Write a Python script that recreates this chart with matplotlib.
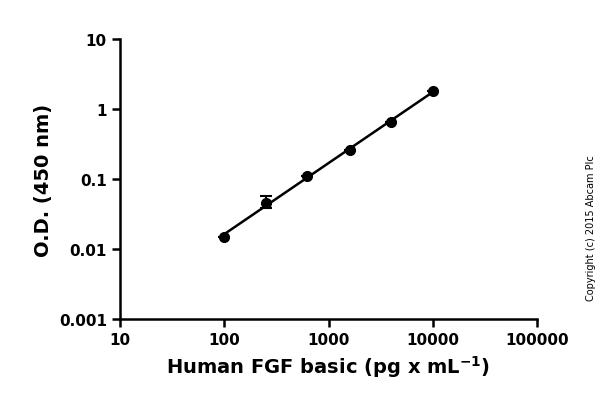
import numpy as np
import matplotlib
matplotlib.use("Agg")
import matplotlib.pyplot as plt

conc = [100, 250, 625, 1600, 4000, 10000]
od = [0.015, 0.046, 0.11, 0.26, 0.66, 1.8]
od_err_low = [0.0, 0.008, 0.0, 0.0, 0.0, 0.0]
od_err_high = [0.0, 0.012, 0.0, 0.0, 0.0, 0.0]

fig = plt.figure(figsize=(6, 4.14), dpi=100)
ax = fig.add_axes([0.2, 0.227, 0.695, 0.676])

# straight-line fit in log-log space
k, b = np.polyfit(np.log10(conc), np.log10(od), 1)
xf = np.logspace(np.log10(conc[0]), np.log10(conc[-1]), 50)
ax.plot(xf, 10 ** (k * np.log10(xf) + b), color='black', lw=1.8)
ax.errorbar(conc, od, yerr=[od_err_low, od_err_high], fmt='o', color='black',
            ms=7, capsize=4, elinewidth=1.5, capthick=1.5)

ax.set_xscale('log')
ax.set_yscale('log')
ax.set_xlim(10, 100000)
ax.set_ylim(0.001, 10)
ax.set_xticks([10, 100, 1000, 10000, 100000])
ax.set_xticklabels(['10', '100', '1000', '10000', '100000'])
ax.set_yticks([0.001, 0.01, 0.1, 1, 10])
ax.set_yticklabels(['0.001', '0.01', '0.1', '1', '10'])
ax.minorticks_off()
for s in ['top', 'right']:
    ax.spines[s].set_visible(False)
for s in ['left', 'bottom']:
    ax.spines[s].set_linewidth(1.8)
ax.tick_params(width=1.8, length=6, labelsize=11)
for t in ax.get_xticklabels() + ax.get_yticklabels():
    t.set_fontweight('bold')
ax.set_xlabel(r'Human FGF basic (pg x mL$^{\mathbf{-1}}$)', fontsize=14, fontweight='bold')
ax.set_ylabel('O.D. (450 nm)', fontsize=14, fontweight='bold')

fig.text(0.985, 0.45, 'Copyright (c) 2015 Abcam Plc', rotation=90, fontsize=7,
         ha='center', va='center')
fig.savefig('out.png', dpi=100)
